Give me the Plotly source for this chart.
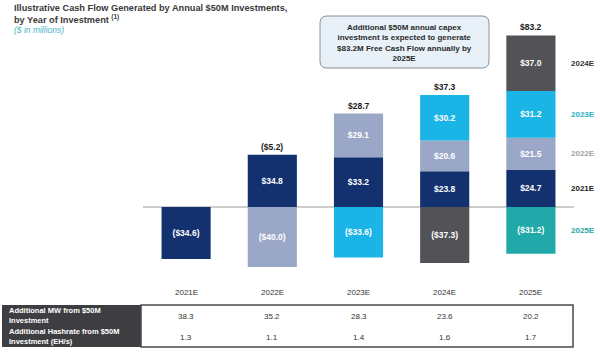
import plotly.graph_objects as go

years = ["2021E", "2022E", "2023E", "2024E", "2025E"]
series_names = ["2021E", "2022E", "2023E", "2024E", "2025E"]
inv2021 = [-34.6, 34.8, 33.2, 23.8, 24.7]
inv2022 = [None, -40.0, 29.1, 20.6, 21.5]
inv2023 = [None, None, -33.6, 30.2, 31.2]
inv2024 = [None, None, None, -37.3, 37.0]
inv2025 = [None, None, None, None, -31.2]
series_values = [inv2021, inv2022, inv2023, inv2024, inv2025]
bar_colors = ["#13306f", "#9aa7c7", "#1ab4e6", "#525257", "#21a9aa"]
label_colors = ["#1a1a1a", "#a3a3a3", "#2bb1c6", "#333333", "#27a7a9"]

mw_row = ["38.3", "35.2", "28.3", "23.6", "20.2"]
hash_row = ["1.3", "1.1", "1.4", "1.6", "1.7"]
row_labels = ["Additional MW from $50M<br>Investment",
              "Additional Hashrate from $50M<br>Investment (EH/s)"]

FONT = "Liberation Sans, Arial, sans-serif"
W, H = 600, 353
L, R, T, B = 143, 26, 27, 2
PW, PH = W - L - R, H - T - B


def px_x(p):
    return (p - L) / PW


def px_y(p):
    return (H - B - p) / PH


def fmt(v):
    return "(${:.1f})".format(-v) if v < 0 else "${:.1f}".format(v)


def rounded_rect(x0, y0, x1, y1, r):
    X = px_x
    Y = px_y
    return (f"M {X(x0 + r)} {Y(y0)} L {X(x1 - r)} {Y(y0)} Q {X(x1)} {Y(y0)} {X(x1)} {Y(y0 + r)} "
            f"L {X(x1)} {Y(y1 - r)} Q {X(x1)} {Y(y1)} {X(x1 - r)} {Y(y1)} "
            f"L {X(x0 + r)} {Y(y1)} Q {X(x0)} {Y(y1)} {X(x0)} {Y(y1 - r)} "
            f"L {X(x0)} {Y(y0 + r)} Q {X(x0)} {Y(y0)} {X(x0 + r)} {Y(y0)} Z")


fig = go.Figure()
for name, vals, col in zip(series_names, series_values, bar_colors):
    xs = [yr for yr, v in zip(years, vals) if v is not None]
    ys = [v for v in vals if v is not None]
    fig.add_trace(go.Bar(
        x=xs, y=ys, name=name, marker=dict(color=col, line=dict(width=0)),
        text=["<b>" + fmt(v) + "</b>" for v in ys],
        textposition="inside", insidetextanchor="middle",
        textfont=dict(color="white", size=8.5, family=FONT),
        constraintext="none", hoverinfo="skip", showlegend=False,
    ))

annotations = []
# totals above bars
for i, yr in enumerate(years):
    vals = [s[i] for s in series_values if s[i] is not None]
    pos = sum(v for v in vals if v > 0)
    tot = sum(vals)
    if pos > 0:
        annotations.append(dict(x=yr, y=pos, xref="x", yref="y", text="<b>" + fmt(tot) + "</b>",
                                showarrow=False, xanchor="center", yanchor="bottom", yshift=1,
                                font=dict(size=8.5, color="#1a1a1a", family=FONT)))

# right-side series labels, aligned with last column segments
last = len(years) - 1
pos_cum, neg_cum = 0.0, 0.0
for name, vals, lc in zip(series_names, series_values, label_colors):
    v = vals[last]
    if v >= 0:
        mid = pos_cum + v / 2
        pos_cum += v
    else:
        mid = neg_cum + v / 2
        neg_cum += v
    annotations.append(dict(x=px_x(569), y=mid, xref="paper", yref="y", text="<b>" + name + "</b>",
                            showarrow=False, xanchor="left", yanchor="middle",
                            font=dict(size=8, color=lc, family=FONT)))

# title
annotations += [
    dict(x=px_x(12), y=px_y(8), xref="paper", yref="paper", xanchor="left", yanchor="middle",
         text="<b>Illustrative Cash Flow Generated by Annual $50M Investments,</b>",
         showarrow=False, font=dict(size=9.2, color="#3a3a3a", family=FONT)),
    dict(x=px_x(12), y=px_y(19), xref="paper", yref="paper", xanchor="left", yanchor="middle",
         text="<b>by Year of Investment <sup>(1)</sup></b>",
         showarrow=False, font=dict(size=9.2, color="#3a3a3a", family=FONT)),
    dict(x=px_x(12), y=px_y(30), xref="paper", yref="paper", xanchor="left", yanchor="middle",
         text="<i>($ in millions)</i>",
         showarrow=False, font=dict(size=8.5, color="#4ab4c6", family=FONT)),
]

# callout
annotations.append(dict(
    x=px_x(404), y=px_y(43), xref="paper", yref="paper", xanchor="center", yanchor="middle",
    text="<b>Additional $50M annual capex<br>investment is expected to generate<br>"
         "$83.2M Free Cash Flow annually by<br>2025E</b>",
    showarrow=False, align="center",
    font=dict(size=8, color="#2a2a2a", family=FONT)))

# table
for i, yr in enumerate(years):
    annotations.append(dict(x=yr, y=px_y(292), xref="x", yref="paper", text=yr, showarrow=False,
                            xanchor="center", yanchor="middle",
                            font=dict(size=8, color="#333333", family=FONT)))
    annotations.append(dict(x=yr, y=px_y(316), xref="x", yref="paper", text=mw_row[i],
                            showarrow=False, xanchor="center", yanchor="middle",
                            font=dict(size=8, color="#333333", family=FONT)))
    annotations.append(dict(x=yr, y=px_y(337), xref="x", yref="paper", text=hash_row[i],
                            showarrow=False, xanchor="center", yanchor="middle",
                            font=dict(size=8, color="#333333", family=FONT)))
for lab, yc in zip(row_labels, [315, 336]):
    annotations.append(dict(x=px_x(7), y=px_y(yc), xref="paper", yref="paper", text="<b>" + lab + "</b>",
                            xanchor="left", yanchor="middle", align="left", showarrow=False,
                            font=dict(size=7.5, color="white", family=FONT)))

shapes = [
    dict(type="path", xref="paper", yref="paper", path=rounded_rect(320, 16, 489, 68, 7),
         fillcolor="#e8f1f8", line=dict(color="#8a8f96", width=1), layer="below"),
    dict(type="line", xref="paper", yref="y", x0=0, x1=1, y0=0, y1=0,
         line=dict(color="#9a9a9a", width=1), layer="below"),
    dict(type="rect", xref="paper", yref="paper", x0=px_x(2), x1=px_x(141),
         y0=px_y(347), y1=px_y(305), fillcolor="#3e3e42", line=dict(width=0), layer="below"),
    dict(type="rect", xref="paper", yref="paper", x0=px_x(141), x1=px_x(573),
         y0=px_y(347), y1=px_y(305), fillcolor="rgba(0,0,0,0)",
         line=dict(color="#4a4a4a", width=1.5)),
]

fig.update_layout(
    width=W, height=H, margin=dict(l=L, r=R, t=T, b=B),
    barmode="relative", bargap=0.43,
    plot_bgcolor="white", paper_bgcolor="white",
    xaxis=dict(visible=False, range=[-0.5, 4.5]),
    yaxis=dict(visible=False, range=[-96, 120], zeroline=False),
    annotations=annotations, shapes=shapes,
    font=dict(family=FONT),
)

fig.write_html("out.html")
